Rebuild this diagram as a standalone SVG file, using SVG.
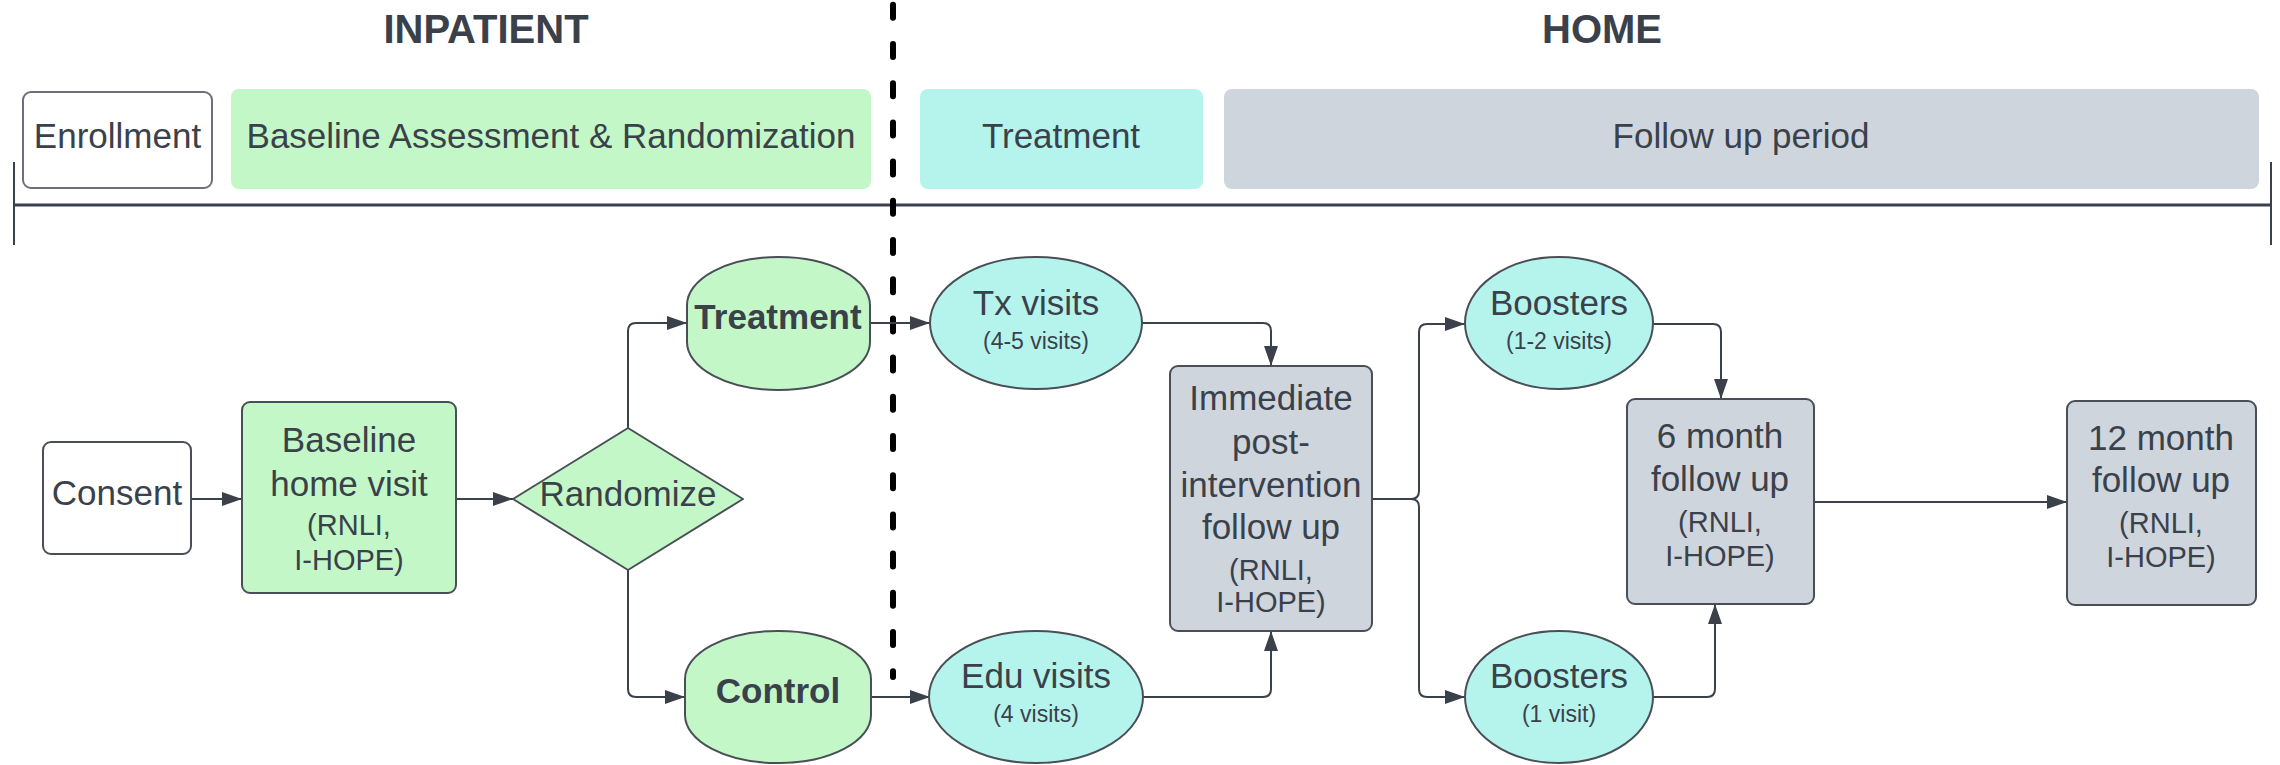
<svg xmlns="http://www.w3.org/2000/svg" width="2280" height="765" viewBox="0 0 2280 765">
<style>
text{font-family:"Liberation Sans",Arial,sans-serif;fill:#3a414a;text-anchor:middle}
.t{font-size:35px}
.s{font-size:29px}
.xs{font-size:23px}
.b{font-weight:bold}
.h{font-size:40px;font-weight:bold}
.node{stroke:#4a4f57;stroke-width:2}
.green{fill:#c3f7c8}
.teal{fill:#b5f4ec}
.gray{fill:#cfd5dd}
.white{fill:#ffffff}
.conn path{fill:none;stroke:#3a414a;stroke-width:2;stroke-linejoin:round}
</style>
<defs>
<marker id="arr" markerUnits="userSpaceOnUse" markerWidth="22" markerHeight="16" refX="20" refY="7" orient="auto">
<path d="M0,0 L20,7 L0,14 z" fill="#3a414a"/>
</marker>
</defs>
<rect width="2280" height="765" fill="#ffffff"/>

<g id="titles">
<text class="h" x="486" y="43">INPATIENT</text>
<text class="h" x="1602" y="43">HOME</text>
</g>

<g id="phases">
<g id="phase-enrollment">
<rect x="23" y="92" width="189" height="96" rx="8" fill="#ffffff" stroke="#6b7079" stroke-width="2"/>
<text class="t" x="117.5" y="148">Enrollment</text>
</g>
<g id="phase-baseline">
<rect x="231" y="89" width="640" height="100" rx="8" class="green"/>
<text class="t" x="551" y="148">Baseline Assessment &amp; Randomization</text>
</g>
<g id="phase-treatment">
<rect x="920" y="89" width="283" height="100" rx="8" class="teal"/>
<text class="t" x="1061" y="148">Treatment</text>
</g>
<g id="phase-followup">
<rect x="1224" y="89" width="1035" height="100" rx="8" class="gray"/>
<text class="t" x="1741" y="148">Follow up period</text>
</g>
</g>

<g id="timeline" stroke="#3a414a">
<line x1="14" y1="205" x2="2271" y2="205" stroke-width="3"/>
<line x1="14" y1="162" x2="14" y2="245" stroke-width="2"/>
<line x1="2271" y1="162" x2="2271" y2="245" stroke-width="2"/>
</g>

<line id="divider" x1="893" y1="4.8" x2="893" y2="677" stroke="#000000" stroke-width="6" stroke-linecap="round" stroke-dasharray="13 26.2"/>

<g id="connectors" class="conn">
<path d="M191 499 H242" marker-end="url(#arr)"/>
<path d="M456 499 H513" marker-end="url(#arr)"/>
<path d="M628 428 V331 Q628 323 636 323 H687" marker-end="url(#arr)"/>
<path d="M628 570 V689 Q628 697 636 697 H685" marker-end="url(#arr)"/>
<path d="M870 323 H930" marker-end="url(#arr)"/>
<path d="M871 697 H930" marker-end="url(#arr)"/>
<path d="M1142 323 H1263 Q1271 323 1271 331 V366" marker-end="url(#arr)"/>
<path d="M1143 697 H1263 Q1271 697 1271 689 V631" marker-end="url(#arr)"/>
<path d="M1372 499 H1411 Q1419 499 1419 491 V332 Q1419 324 1427 324 H1465" marker-end="url(#arr)"/>
<path d="M1411 499 Q1419 499 1419 507 V689 Q1419 697 1427 697 H1465" marker-end="url(#arr)"/>
<path d="M1653 324 H1713 Q1721 324 1721 332 V399" marker-end="url(#arr)"/>
<path d="M1653 697 H1707 Q1715 697 1715 689 V604" marker-end="url(#arr)"/>
<path d="M1814 502 H2067" marker-end="url(#arr)"/>
</g>

<g id="consent">
<rect x="43" y="442" width="148" height="112" rx="8" class="node white"/>
<text class="t" x="117" y="505">Consent</text>
</g>

<g id="baseline-visit">
<rect x="242" y="402" width="214" height="191" rx="8" class="node green"/>
<text class="t" x="349" y="452">Baseline</text>
<text class="t" x="349" y="496">home visit</text>
<text class="s" x="349" y="535">(RNLI,</text>
<text class="s" x="349" y="570">I-HOPE)</text>
</g>

<g id="randomize">
<polygon points="513,499 628,428 743,499 628,570" class="node green" stroke-linejoin="round"/>
<text class="t" x="628" y="506">Randomize</text>
</g>

<g id="treatment">
<rect x="687" y="257" width="183" height="133" rx="91" ry="48" class="node green"/>
<text class="t b" x="778" y="329">Treatment</text>
</g>

<g id="control">
<rect x="685" y="631" width="186" height="132" rx="92" ry="48" class="node green"/>
<text class="t b" x="778" y="703">Control</text>
</g>

<g id="tx-visits">
<ellipse cx="1036" cy="323" rx="106" ry="66" class="node teal"/>
<text class="t" x="1036" y="315">Tx visits</text>
<text class="xs" x="1036" y="349">(4-5 visits)</text>
</g>

<g id="edu-visits">
<ellipse cx="1036" cy="697" rx="107" ry="66" class="node teal"/>
<text class="t" x="1036" y="688">Edu visits</text>
<text class="xs" x="1036" y="722">(4 visits)</text>
</g>

<g id="immediate">
<rect x="1170" y="366" width="202" height="265" rx="8" class="node gray"/>
<text class="t" x="1271" y="410">Immediate</text>
<text class="t" x="1271" y="454">post-</text>
<text class="t" x="1271" y="497">intervention</text>
<text class="t" x="1271" y="539">follow up</text>
<text class="s" x="1271" y="580">(RNLI,</text>
<text class="s" x="1271" y="612">I-HOPE)</text>
</g>

<g id="boosters-1">
<ellipse cx="1559" cy="323" rx="94" ry="66" class="node teal"/>
<text class="t" x="1559" y="315">Boosters</text>
<text class="xs" x="1559" y="349">(1-2 visits)</text>
</g>

<g id="boosters-2">
<ellipse cx="1559" cy="697" rx="94" ry="66" class="node teal"/>
<text class="t" x="1559" y="688">Boosters</text>
<text class="xs" x="1559" y="722">(1 visit)</text>
</g>

<g id="six-month">
<rect x="1627" y="399" width="187" height="205" rx="8" class="node gray"/>
<text class="t" x="1720" y="448">6 month</text>
<text class="t" x="1720" y="491">follow up</text>
<text class="s" x="1720" y="532">(RNLI,</text>
<text class="s" x="1720" y="566">I-HOPE)</text>
</g>

<g id="twelve-month">
<rect x="2067" y="401" width="189" height="204" rx="8" class="node gray"/>
<text class="t" x="2161" y="450">12 month</text>
<text class="t" x="2161" y="492">follow up</text>
<text class="s" x="2161" y="533">(RNLI,</text>
<text class="s" x="2161" y="567">I-HOPE)</text>
</g>
</svg>
